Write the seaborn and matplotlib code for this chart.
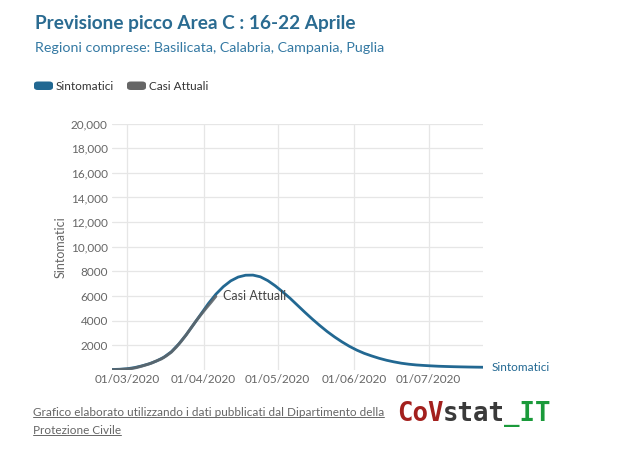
import matplotlib
matplotlib.use("Agg")
import matplotlib.pyplot as plt
from matplotlib.patches import FancyBboxPatch
from matplotlib.lines import Line2D
import seaborn as sns
import pandas as pd

# ---- data ----
title = "Previsione picco Area C : 16-22 Aprile"
subtitle = "Regioni comprese: Basilicata, Calabria, Campania, Puglia"
series_names = ["Sintomatici", "Casi Attuali"]

sint_start = "2020-02-24"
sint_step_days = 3
sint_values = [40, 60, 100, 190, 330, 500, 730, 1040, 1480, 2110, 2860, 3700,
               4550, 5400, 6150, 6760, 7230, 7540, 7690, 7700, 7560, 7250, 6830,
               6340, 5820, 5250, 4680, 4130, 3610, 3120, 2680, 2280, 1920, 1610,
               1350, 1140, 950, 790, 660, 550, 470, 410, 370, 335, 305, 285,
               268, 254, 242, 232, 224]

casi_start = "2020-02-24"
casi_step_days = 2
casi_values = [20, 30, 50, 80, 120, 200, 310, 430, 560, 740, 900, 1150, 1450,
               1860, 2330, 2850, 3420, 3980, 4500, 5000, 5480, 5980]

x_ticks = ["2020-03-01", "2020-04-01", "2020-05-01", "2020-06-01", "2020-07-01"]
x_tick_labels = ["01/03/2020", "01/04/2020", "01/05/2020", "01/06/2020", "01/07/2020"]
y_ticks = [2000, 4000, 6000, 8000, 10000, 12000, 14000, 16000, 18000, 20000]
y_tick_labels = ["2000", "4000", "6000", "8000", "10,000", "12,000", "14,000",
                 "16,000", "18,000", "20,000"]
footer = ["Grafico elaborato utilizzando i dati pubblicati dal Dipartimento della",
          "Protezione Civile"]

sint_df = pd.DataFrame({
    "date": pd.date_range(sint_start, periods=len(sint_values), freq=f"{sint_step_days}D"),
    "value": sint_values})
casi_df = pd.DataFrame({
    "date": pd.date_range(casi_start, periods=len(casi_values), freq=f"{casi_step_days}D"),
    "value": casi_values})

# ---- style ----
sns.set_theme(style="white")
plt.rcParams["font.family"] = ["Lato", "DejaVu Sans"]

W, H = 627, 451
fig = plt.figure(figsize=(W / 100, H / 100), dpi=100)
fig.patch.set_facecolor("white")

def fx(px):
    return px / W

def fy(py):
    return 1 - py / H

BLUE = "#226892"
GRAY = "#5d666c"
TXT = "#666666"

left, right, top, bottom = 112, 483, 123.5, 370
ax = fig.add_axes([fx(left), fy(bottom), (right - left) / W, (bottom - top) / H])

sns.lineplot(data=sint_df, x="date", y="value", ax=ax, color=BLUE, linewidth=2.0)
sns.lineplot(data=casi_df, x="date", y="value", ax=ax, color=GRAY, linewidth=2.1,
             alpha=0.9)

ax.set_xlim(sint_df["date"].iloc[0], sint_df["date"].iloc[-1])
ax.set_ylim(0, 20000)
ax.set_xticks(pd.to_datetime(x_ticks))
ax.set_xticklabels(x_tick_labels)
ax.set_yticks(y_ticks)
ax.set_yticklabels(y_tick_labels)
ax.tick_params(axis="both", length=0, labelsize=8.5, labelcolor=TXT)
ax.tick_params(axis="y", pad=3)
ax.tick_params(axis="x", pad=3)
ax.grid(True, color="#e6e6e6", linewidth=0.9)
for s in ax.spines.values():
    s.set_visible(False)
ax.set_xlabel("")
ax.set_ylabel("Sintomatici", color=TXT, fontsize=9, labelpad=3)

# series labels
ax.annotate("Sintomatici", xy=(sint_df["date"].iloc[-1], sint_values[-1]),
            xytext=(6, 0), textcoords="offset points", color=BLUE, fontsize=8.5,
            va="center", ha="left", annotation_clip=False)
ax.annotate("Casi Attuali", xy=(casi_df["date"].iloc[-1], casi_values[-1]),
            xytext=(5, 0), textcoords="offset points", color="#444444", fontsize=9,
            va="center", ha="left")

# titles
fig.text(fx(35), fy(24), title, fontsize=13.7, fontweight="bold", color="#2a6b91",
         va="center", ha="left")
fig.text(fx(35), fy(48), subtitle, fontsize=10.3, color="#3479a3", va="center", ha="left")

# legend
for x0, x1, col, name, tx in [(34, 53, BLUE, series_names[0], 56),
                              (127, 146, "#666666", series_names[1], 149)]:
    p = FancyBboxPatch((fx(x0), fy(90)), fx(x1 - x0), (90 - 81.5) / H,
                       boxstyle="round,pad=0,rounding_size=0.006",
                       transform=fig.transFigure, facecolor=col, edgecolor="none")
    fig.add_artist(p)
    fig.text(fx(tx), fy(86), name, fontsize=8.5, color="#333333", va="center", ha="left")

# footer with underline
ft = []
for i, line in enumerate(footer):
    ft.append(fig.text(fx(33), fy(412 + 18 * i), line, fontsize=8.5, color=TXT,
                       va="center", ha="left"))
fig.canvas.draw()
r = fig.canvas.get_renderer()
for t in ft:
    bb = t.get_window_extent(r)
    yline = bb.y0 + 1
    fig.add_artist(Line2D([bb.x0 / W, bb.x1 / W], [yline / H, yline / H],
                          transform=fig.transFigure, color=TXT, linewidth=0.7))

# logo
logo_parts = [("CoV", "#a3201d"), ("stat", "#3a3a3a"), ("_IT", "#1a9a3a")]
x = 397
cw = 15.3
for txt, col in logo_parts:
    fig.text(fx(x), fy(414), txt, fontsize=18.5, fontweight="bold",
             family="DejaVu Sans Mono", color=col, va="center", ha="left")
    x += cw * len(txt)

fig.savefig("out.png", dpi=100, facecolor="white")
